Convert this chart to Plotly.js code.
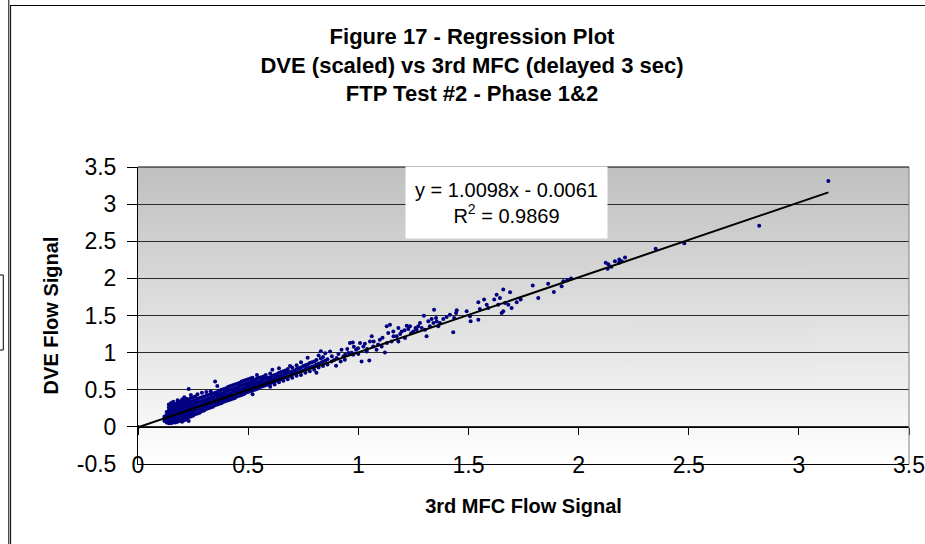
<!DOCTYPE html>
<html><head><meta charset="utf-8">
<script src="https://cdn.plot.ly/plotly-3.0.1.min.js"></script>
<style>html,body{margin:0;padding:0;background:#fff}#chart{width:925px;height:544px}</style>
</head><body><div id="chart"></div>
<script>
// 3rd MFC flow signal (x) and DVE flow signal (y)
const mfcFlow = [
 0,
 0.12,0.12,0.12,
 0.13,0.13,0.13,0.13,0.13,
 0.14,0.14,0.14,0.14,0.14,0.14,0.14,0.14,
 0.15,0.15,0.15,0.15,0.15,0.15,0.15,0.15,0.15,
 0.16,0.16,0.16,0.16,0.16,0.16,0.16,0.16,0.16,
 0.17,0.17,0.17,0.17,0.17,0.17,0.17,0.17,
 0.18,0.18,0.18,0.18,0.18,0.18,0.18,0.18,0.18,
 0.19,0.19,0.19,0.19,0.19,0.19,0.19,0.19,
 0.20,0.20,0.20,0.20,0.20,0.20,0.20,0.20,0.20,
 0.21,0.21,0.21,0.21,0.21,0.21,0.21,0.21,0.21,
 0.22,0.22,0.22,0.22,0.22,0.22,0.22,0.22,
 0.23,0.23,0.23,0.23,0.23,0.23,0.23,0.23,0.23,
 0.24,0.24,0.24,0.24,0.24,0.24,0.24,0.24,
 0.25,0.25,0.25,0.25,0.25,0.25,0.25,
 0.26,0.26,0.26,0.26,0.26,0.26,
 0.27,0.27,0.27,0.27,0.27,0.27,
 0.28,0.28,0.28,0.28,0.28,
 0.29,0.29,0.29,0.29,0.29,0.29,
 0.30,0.30,0.30,0.30,0.30,
 0.31,0.31,0.31,0.31,0.31,0.31,
 0.32,0.32,0.32,0.32,0.32,
 0.33,0.33,0.33,0.33,0.33,0.33,
 0.34,0.34,0.34,0.34,0.34,
 0.35,0.35,0.35,0.35,0.35,0.35,
 0.36,0.36,0.36,0.36,0.36,0.36,
 0.37,0.37,0.37,0.37,0.37,
 0.38,0.38,0.38,0.38,0.38,
 0.39,0.39,0.39,0.39,0.39,
 0.40,0.40,0.40,0.40,0.40,
 0.41,0.41,0.41,0.41,0.41,
 0.42,0.42,0.42,0.42,0.42,
 0.43,0.43,0.43,0.43,0.43,
 0.44,0.44,0.44,0.44,0.44,
 0.45,0.45,0.45,0.45,0.45,
 0.46,0.46,0.46,0.46,0.46,
 0.47,0.47,0.47,0.47,0.47,
 0.48,0.48,0.48,0.48,0.48,
 0.49,0.49,0.49,0.49,0.49,
 0.50,0.50,0.50,0.50,0.50,
 0.51,0.51,0.51,0.51,0.51,
 0.52,0.52,0.52,0.52,0.52,0.52,
 0.53,0.53,0.53,0.53,
 0.54,0.54,0.54,0.54,0.54,
 0.55,0.55,0.55,0.55,
 0.56,0.56,0.56,0.56,
 0.57,0.57,0.57,0.57,
 0.58,0.58,0.58,0.58,
 0.59,0.59,0.59,
 0.60,0.60,0.60,0.60,0.60,
 0.61,0.61,0.61,0.61,
 0.62,0.62,0.62,0.62,
 0.63,0.63,0.63,
 0.64,0.64,0.64,0.64,0.64,
 0.65,0.65,0.65,
 0.66,0.66,0.66,0.66,
 0.67,0.67,0.67,
 0.68,0.68,0.68,0.68,
 0.69,0.69,0.69,
 0.70,0.70,0.70,0.70,
 0.71,0.71,
 0.72,0.72,0.72,0.72,
 0.73,0.73,
 0.74,0.74,0.74,0.74,
 0.75,0.75,
 0.76,0.76,0.76,
 0.77,0.77,0.77,
 0.78,0.78,0.78,
 0.79,0.79,
 0.80,0.80,0.80,
 0.81,0.81,0.81,
 0.82,0.82,0.82,
 0.83,0.83,0.83,
 0.84,0.84,0.84,
 0.85,0.85,
 0.86,0.86,
 0.872,0.879,0.899,0.902,0.924,0.932,0.939,0.955,0.962,0.975,
 0.977,0.990,0.999,1.008,1.015,1.023,1.038,1.050,1.053,1.061,
 1.068,1.083,1.098,1.106,1.121,1.129,1.144,1.136,1.151,1.159,
 1.174,1.182,1.182,1.197,1.212,1.220,1.227,1.235,1.250,1.265,
 1.272,1.280,1.288,1.298,1.303,1.310,1.318,1.325,1.333,1.341,
 1.344,1.353,1.356,1.363,1.371,1.386,1.401,1.416,1.431,1.435,
 1.444,1.447,1.492,1.507,1.510,1.545,1.545,1.552,1.571,1.583,
 1.590,1.617,1.628,1.635,1.643,1.651,1.658,1.658,1.666,1.681,
 1.689,1.696,1.719,1.737,1.792,1.817,1.862,1.888,1.923,1.931,
 1.949,1.966,2.123,2.132,2.135,2.149,2.165,2.184,2.185,2.196,
 2.211,2.350,2.480,2.820,3.134,
 0.88,0.89,0.91,0.92,0.94,0.95,0.97,0.98,1.00,1.03,
 1.04,1.07,1.09,1.11,1.13,1.16,1.19,1.21,1.24,1.26
];
const dveFlow = [
 0,
 0.08,0.11,0.14,
 0.06,0.09,0.12,0.16,0.20,
 0.05,0.08,0.11,0.14,0.18,0.22,0.26,0.30,
 0.05,0.07,0.10,0.13,0.16,0.19,0.23,0.27,0.32,
 0.06,0.09,0.12,0.15,0.18,0.21,0.25,0.29,0.34,
 0.06,0.10,0.13,0.16,0.20,0.23,0.27,0.31,
 0.07,0.10,0.14,0.17,0.21,0.24,0.28,0.32,0.36,
 0.08,0.12,0.15,0.19,0.22,0.26,0.30,0.34,
 0.07,0.11,0.14,0.18,0.21,0.25,0.28,0.32,0.37,
 0.09,0.13,0.17,0.20,0.24,0.27,0.31,0.35,0.40,
 0.10,0.14,0.18,0.22,0.26,0.29,0.33,0.38,
 0.08,0.13,0.17,0.21,0.25,0.29,0.33,0.37,0.51,
 0.14,0.18,0.22,0.26,0.30,0.34,0.39,0.43,
 0.15,0.19,0.23,0.27,0.31,0.35,0.40,
 0.17,0.22,0.27,0.31,0.36,0.41,
 0.18,0.23,0.28,0.33,0.38,0.44,
 0.19,0.24,0.29,0.34,0.39,
 0.21,0.25,0.30,0.35,0.40,0.46,
 0.22,0.27,0.31,0.36,0.41,
 0.24,0.28,0.33,0.37,0.42,0.47,
 0.25,0.29,0.34,0.38,0.43,
 0.26,0.31,0.35,0.39,0.44,0.48,
 0.27,0.32,0.36,0.40,0.45,
 0.29,0.33,0.37,0.42,0.46,0.61,
 0.30,0.34,0.38,0.43,0.47,0.55,
 0.31,0.35,0.40,0.44,0.49,
 0.32,0.36,0.41,0.45,0.50,
 0.34,0.38,0.42,0.46,0.51,
 0.35,0.39,0.43,0.48,0.52,
 0.36,0.40,0.44,0.49,0.54,
 0.37,0.41,0.45,0.50,0.55,
 0.38,0.42,0.47,0.51,0.56,
 0.39,0.43,0.48,0.52,0.57,
 0.41,0.45,0.49,0.53,0.58,
 0.42,0.46,0.50,0.55,0.59,
 0.43,0.47,0.51,0.56,0.61,
 0.44,0.48,0.52,0.57,0.62,
 0.46,0.50,0.54,0.58,0.63,
 0.47,0.51,0.55,0.59,0.64,
 0.48,0.52,0.56,0.60,0.65,
 0.44,0.49,0.53,0.57,0.62,0.66,
 0.50,0.55,0.59,0.63,
 0.51,0.56,0.60,0.65,0.70,
 0.53,0.57,0.61,0.66,
 0.54,0.58,0.62,0.67,
 0.55,0.59,0.64,0.68,
 0.56,0.60,0.65,0.70,
 0.57,0.62,0.66,
 0.54,0.58,0.63,0.67,0.72,
 0.60,0.64,0.69,0.77,
 0.57,0.61,0.65,0.70,
 0.62,0.66,0.71,
 0.60,0.63,0.68,0.73,0.79,
 0.64,0.69,0.74,
 0.62,0.66,0.70,0.75,
 0.67,0.72,0.76,
 0.64,0.68,0.73,0.78,
 0.69,0.74,0.82,
 0.66,0.71,0.75,0.80,
 0.72,0.76,
 0.69,0.73,0.78,0.83,
 0.74,0.79,
 0.70,0.75,0.80,0.87,
 0.76,0.82,
 0.73,0.78,0.83,
 0.79,0.84,0.93,
 0.75,0.80,0.86,
 0.81,0.87,
 0.77,0.82,0.88,
 0.73,0.84,0.90,
 0.80,0.85,0.96,
 0.86,0.92,1.02,
 0.82,0.88,0.94,
 0.89,0.99,
 0.84,0.91,
 1.016,0.881,0.823,0.927,1.039,0.949,0.904,0.995,1.130,1.138,
 0.972,1.039,1.060,1.130,0.881,1.084,1.016,0.895,1.151,1.219,
 1.084,1.039,1.174,1.084,1.003,1.354,1.376,1.264,1.151,1.286,
 1.219,1.151,1.332,1.286,1.197,1.363,1.318,1.354,1.286,1.309,
 1.354,1.399,1.332,1.498,1.309,1.219,1.421,1.354,1.453,1.399,
 1.579,1.467,1.420,1.354,1.399,1.453,1.480,1.511,1.273,1.467,
 1.534,1.570,1.556,1.489,1.421,1.678,1.444,1.589,1.714,1.646,
 1.602,1.714,1.781,1.646,1.737,1.534,1.556,1.849,1.669,1.646,
 1.813,1.602,1.678,1.714,1.903,1.737,1.926,1.818,1.894,1.961,
 1.975,1.997,2.209,2.128,2.190,2.155,2.231,2.209,2.254,2.231,
 2.281,2.398,2.474,2.708,3.311,
 0.95,0.90,0.98,0.88,0.97,1.05,1.00,1.08,0.98,1.12,
 1.05,1.15,1.11,1.20,1.13,1.22,1.25,1.30,1.26,1.33
];
const slope = 1.0098;
const intercept = -0.0061;
const xTickVals = [0, 0.5, 1, 1.5, 2, 2.5, 3, 3.5];
const xTickText = ['0', '0.5', '1', '1.5', '2', '2.5', '3', '3.5'];
const yTickVals = [-0.5, 0, 0.5, 1, 1.5, 2, 2.5, 3, 3.5];
const yTickText = ['-0.5', '0', '0.5', '1', '1.5', '2', '2.5', '3', '3.5'];
const yTickMarks = [0, 0.5, 1, 1.5, 2, 2.5, 3, 3.5];

// trend line over the range of the data
const xMax = Math.max.apply(null, mfcFlow);
const trendX = [0, xMax];
const trendY = trendX.map(v => slope * v + intercept);

// vertical gray gradient for the plot area
const cv = document.createElement('canvas');
cv.width = 4; cv.height = 300;
const ctx = cv.getContext('2d');
const grad = ctx.createLinearGradient(0, 0, 0, 300);
grad.addColorStop(0, '#c0c0c0');
grad.addColorStop(1, '#ffffff');
ctx.fillStyle = grad; ctx.fillRect(0, 0, 4, 300);
const bgImg = cv.toDataURL();

const FONT = 'Liberation Sans, Arial, sans-serif';
// pixel helpers for decorative frame (plot area: left 138, top 167, 771x297)
const PX = p => (p - 138) / 771;
const PY = p => (464 - p) / 297;

const traces = [
  {x: mfcFlow, y: dveFlow, type: 'scatter', mode: 'markers',
   marker: {size: 4, color: '#000080'}, hoverinfo: 'x+y'},
  {x: trendX, y: trendY, type: 'scatter', mode: 'lines', xaxis: 'x2', yaxis: 'y2',
   line: {color: '#000000', width: 2}, hoverinfo: 'skip'}
];

const layout = {
  width: 925, height: 544,
  margin: {l: 138, r: 16, t: 167, b: 80},
  paper_bgcolor: '#ffffff', plot_bgcolor: 'rgba(0,0,0,0)',
  showlegend: false,
  font: {family: FONT, color: '#000'},
  title: {
    text: '<b>Figure 17 - Regression Plot</b><br><b>DVE (scaled) vs 3rd MFC (delayed 3 sec)</b><br><b>FTP Test #2 - Phase 1&amp;2</b>',
    font: {family: FONT, size: 22, color: '#000'},
    x: 472 / 925, xanchor: 'center', xref: 'container',
    y: 1 - 44 / 544, yanchor: 'top', yref: 'container'
  },
  xaxis: {
    range: [0, 3.5], tickvals: xTickVals, ticktext: xTickText,
    ticks: '', showgrid: false, zeroline: false,
    showline: true, linecolor: '#000', linewidth: 1,
    tickfont: {family: FONT, size: 23, color: '#000'},
    ticklabelstandoff: -20,
    title: {text: '<b>3rd MFC Flow Signal</b>', font: {family: FONT, size: 20, color: '#000'}, standoff: 22},
    fixedrange: true
  },
  xaxis2: {
    range: [0, 3.5], overlaying: 'x', anchor: 'free', position: 0.125, side: 'bottom',
    tickvals: xTickVals, ticks: 'outside', ticklen: 7, tickcolor: '#000', tickwidth: 1,
    showticklabels: false, showgrid: false, zeroline: false,
    showline: true, linecolor: '#000', linewidth: 1, fixedrange: true
  },
  yaxis: {
    range: [-0.5, 3.5], tickvals: yTickVals, ticktext: yTickText,
    ticks: '', showgrid: true, gridcolor: '#2a2a2a', gridwidth: 1, zeroline: false,
    showline: true, linecolor: '#000', linewidth: 1,
    tickfont: {family: FONT, size: 23, color: '#000'},
    ticklabelstandoff: 16,
    title: {text: '<b>DVE Flow Signal</b>', font: {family: FONT, size: 20, color: '#000'}, standoff: 12},
    fixedrange: true
  },
  yaxis2: {
    range: [-0.5, 3.5], overlaying: 'y', anchor: 'x', side: 'left',
    tickvals: yTickMarks, ticks: 'outside', ticklen: 10, tickcolor: '#000', tickwidth: 1,
    showticklabels: false, showgrid: false, zeroline: false, showline: false, fixedrange: true
  },
  images: [{source: bgImg, xref: 'paper', yref: 'paper', x: 0, y: 1, sizex: 1, sizey: 1,
            sizing: 'stretch', layer: 'below', xanchor: 'left', yanchor: 'top'}],
  annotations: [{
    xref: 'paper', yref: 'paper', x: PX(506.5), y: PY(202.5), xanchor: 'center', yanchor: 'middle',
    text: 'y = 1.0098x - 0.0061<br>R<sup>2</sup> = 0.9869', showarrow: false,
    font: {family: FONT, size: 20, color: '#000'}, bgcolor: '#ffffff',
    width: 197, height: 67, borderpad: 2, align: 'center'
  }],
  shapes: [
    {type: 'line', xref: 'paper', yref: 'paper', x0: 1, x1: 1, y0: 0, y1: 1, line: {color: '#808080', width: 1}},
    {type: 'line', xref: 'paper', yref: 'paper', x0: 0, x1: 1, y0: 1, y1: 1, line: {color: '#000', width: 1}},
    {type: 'line', xref: 'paper', yref: 'paper', x0: PX(10), x1: PX(925), y0: PY(5.5), y1: PY(5.5), line: {color: '#000', width: 1}},
    {type: 'line', xref: 'paper', yref: 'paper', x0: PX(8.8), x1: PX(8.8), y0: PY(0), y1: PY(544), line: {color: '#000', width: 1}},
    {type: 'line', xref: 'paper', yref: 'paper', x0: PX(10.6), x1: PX(10.6), y0: PY(5.5), y1: PY(544), line: {color: '#000', width: 1}},
    {type: 'rect', xref: 'paper', yref: 'paper', x0: PX(-2), x1: PX(3.3), y0: PY(350), y1: PY(275), line: {color: '#000', width: 1}}
  ]
};

Plotly.newPlot('chart', traces, layout, {displayModeBar: false, staticPlot: true});
</script>
</body></html>
